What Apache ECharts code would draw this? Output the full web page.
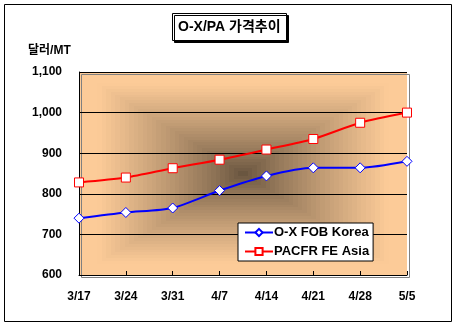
<!DOCTYPE html>
<html><head><meta charset="utf-8">
<script src="https://cdn.jsdelivr.net/npm/echarts@6/dist/echarts.min.js"></script>
<style>html,body{margin:0;padding:0;background:#fff}#c{width:457px;height:326px}</style>
</head><body><div id="c"></div>
<script>
const categories = ['3/17','3/24','3/31','4/7','4/14','4/21','4/28','5/5'];
const oxFobKorea = [740, 754, 765, 808, 844, 864, 864, 880];
const paCfrFeAsia = [828, 840, 863, 884, 909, 935, 975, 1000];
const yTicks = [600, 700, 800, 900, 1000, 1100];
const seriesNames = ['O-X FOB Korea', 'PACFR FE Asia'];

// rectangular "from center" gradient background image
const PL = 79, PT = 72, PW = 328, PH = 203;
const cv = document.createElement('canvas');
cv.width = PW; cv.height = PH;
(function(){
  const ctx = cv.getContext('2d');
  const img = ctx.createImageData(PW, PH);
  const c0 = [106, 86, 64], c1 = [252, 203, 152];
  const cx = PW/2, cy = PH/2;
  const steps = 36;
  for (let y = 0; y < PH; y++) for (let x = 0; x < PW; x++) {
    let t = Math.max(Math.abs(x + 0.5 - cx)/cx, Math.abs(y + 0.5 - cy)/cy);
    t = Math.min(1, Math.floor(t*steps)/steps * 1.15);
    t = Math.pow(t, 0.85);
    const i = (y*PW + x)*4;
    for (let k = 0; k < 3; k++) img.data[i+k] = Math.round(c0[k] + (c1[k]-c0[k])*t);
    img.data[i+3] = 255;
  }
  ctx.putImageData(img, 0, 0);
})();

const chart = echarts.init(document.getElementById('c'), null, {renderer: 'canvas'});
const bold = {fontFamily: 'Arial, "Liberation Sans", sans-serif', fontWeight: 'bold', color: '#000'};
chart.setOption({
  animation: false,
  backgroundColor: '#fff',
  title: {
    text: 'O-X/PA 가격추이',
    left: 172, top: 13,
    padding: [7, 6, 7, 6],
    borderColor: '#000', borderWidth: 1, backgroundColor: '#fff',
    shadowColor: '#000', shadowOffsetX: 2, shadowOffsetY: 2, shadowBlur: 0,
    textStyle: Object.assign({}, bold, {fontSize: 14, fontFamily: 'Arial, "Noto Sans CJK KR", sans-serif'})
  },
  graphic: [
    {type: 'rect', left: 4, top: 4, z: -20, silent: true,
     shape: {width: 447, height: 317}, style: {fill: '#fff', stroke: '#000', lineWidth: 1}},
    {type: 'image', left: PL, top: PT, z: -10, silent: true,
     style: {image: cv, width: PW, height: PH}},
    {type: 'rect', left: PL, top: PT, z: -9, silent: true,
     shape: {width: PW, height: PH}, style: {fill: 'none', stroke: '#808080', lineWidth: 1}},
    {type: 'text', left: 28, top: 45, z: 5,
     style: {text: '달러/MT', fill: '#000', font: 'bold 12px Arial, "Noto Sans CJK KR", sans-serif'}}
  ],
  grid: {left: PL, right: 457 - PL - PW, top: PT, bottom: 326 - PT - PH},
  legend: {
    orient: 'vertical', left: 238, top: 223,
    backgroundColor: '#fff', borderColor: '#000', borderWidth: 1,
    padding: [3, 4, 3, 6], itemGap: 6, itemWidth: 28, itemHeight: 9,
    data: seriesNames,
    textStyle: Object.assign({}, bold, {fontSize: 13, padding: [0, 0, 0, -4]})
  },
  xAxis: {
    type: 'category', data: categories, boundaryGap: false,
    axisLine: {lineStyle: {color: '#000', width: 1}},
    axisTick: {inside: true, length: 4, lineStyle: {color: '#000'}},
    axisLabel: Object.assign({}, bold, {fontSize: 12, margin: 16}),
    splitLine: {show: false}
  },
  yAxis: {
    type: 'value', min: yTicks[0], max: yTicks[yTicks.length-1], interval: 100,
    axisLine: {show: true, lineStyle: {color: '#000'}},
    axisTick: {show: false},
    axisLabel: Object.assign({}, bold, {fontSize: 12, margin: 17,
      formatter: v => v.toLocaleString('en-US')}),
    splitLine: {show: true, lineStyle: {color: '#000', width: 1}}
  },
  series: [
    {name: seriesNames[0], type: 'line', data: oxFobKorea, smooth: 0.25,
     symbol: 'diamond', symbolSize: 10, z: 3,
     lineStyle: {color: '#0000ff', width: 2},
     itemStyle: {color: '#fff', borderColor: '#0000ff', borderWidth: 1}},
    {name: seriesNames[1], type: 'line', data: paCfrFeAsia, smooth: 0.25,
     symbol: 'rect', symbolSize: 9, z: 3,
     lineStyle: {color: '#ff0000', width: 2},
     itemStyle: {color: '#fff', borderColor: '#ff0000', borderWidth: 1}}
  ]
});
</script></body></html>
